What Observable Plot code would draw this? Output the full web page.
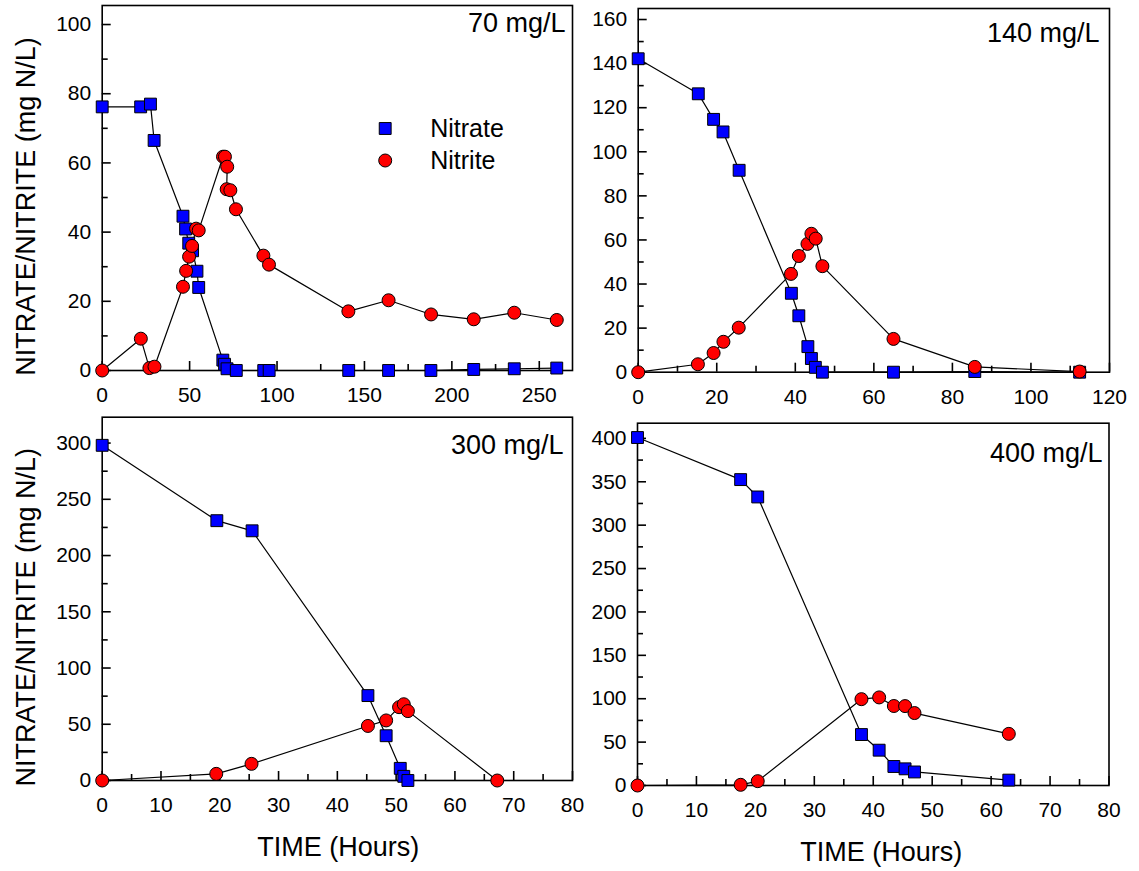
<!DOCTYPE html>
<html>
<head>
<meta charset="utf-8">
<script src="https://cdn.jsdelivr.net/npm/d3@7"></script>
<script src="https://cdn.jsdelivr.net/npm/@observablehq/plot@0.6"></script>
<style>
  html, body { margin: 0; padding: 0; background: #ffffff; }
  #chart { position: relative; width: 1139px; height: 871px; background: #ffffff; }
  #chart svg { position: absolute; overflow: visible; }
</style>
</head>
<body>
<div id="chart"></div>
<script>
// ---------- DATA: [time (hours), concentration (mg N/L)] ----------
const nitrate70 = [[0,76.2],[22,76.2],[27.6,77.0],[29.7,66.5],[46.2,44.6],[47.7,40.9],[49.5,36.8],[51.7,34.6],[54.2,28.7],[55.2,24.0],[69.0,3.0],[70.0,1.8],[71.4,0.5],[76.7,0],[92.4,0],[95.5,0],[141,0],[163.8,0],[188,0],[212.5,0.3],[235.7,0.5],[260,0.7]];
const nitrite70 = [[0,0],[22.1,9.2],[27.0,0.7],[29.9,1.1],[46.2,24.2],[48.0,28.8],[49.7,32.9],[51.4,36.0],[53.7,41.0],[55.2,40.5],[69.1,61.8],[70.2,61.8],[71.5,58.9],[71.2,52.4],[73.3,52.1],[76.5,46.6],[92.2,33.2],[95.4,30.6],[140.8,17.1],[163.8,20.3],[188.1,16.2],[212.5,14.8],[235.7,16.7],[260,14.6]];

const nitrate140 = [[0,142.2],[15.3,126.3],[19.2,114.7],[21.6,109.0],[25.7,91.6],[39.0,35.8],[40.9,25.6],[43.2,11.6],[44.1,6.2],[45.1,2.2],[46.9,0],[65.0,0],[85.7,0.3],[112.4,0]];
const nitrite140 = [[0,0],[15.2,3.6],[19.2,8.7],[21.7,13.8],[25.6,20.2],[38.9,44.6],[40.9,52.7],[43.1,58.2],[44.1,62.8],[45.2,60.6],[46.9,48.1],[65.0,15.1],[85.7,2.4],[112.4,0.3]];

const nitrate300 = [[0,298],[19.5,231],[25.5,222],[45.2,75.5],[48.3,39.8],[50.7,10.8],[51.3,3.7],[52.0,0]];
const nitrite300 = [[0,0],[19.4,5.9],[25.4,14.8],[45.2,48.5],[48.3,53.4],[50.5,65.2],[51.3,67.8],[52.0,61.7],[67.2,0]];

const nitrate400 = [[0,401],[17.5,352.5],[20.4,332.5],[38.0,58.7],[41.0,40.7],[43.5,21.9],[45.4,19.2],[47.0,15.6],[63.0,6.2]];
const nitrite400 = [[0,0],[17.5,0.8],[20.4,5.0],[38.0,99.5],[41.0,101.5],[43.5,91.6],[45.4,91.5],[47.0,83.5],[63.0,59.5]];

// ---------- Tick values / labels ----------
const xTicks70 = [0,50,100,150,200,250];
const xMinor70 = [25,75,125,175,225];
const yTicks70 = [0,20,40,60,80,100];
const yMinor70 = [10,30,50,70,90];

const xTicks140 = [0,20,40,60,80,100,120];
const xMinor140 = [10,30,50,70,90,110];
const yTicks140 = [0,20,40,60,80,100,120,140,160];
const yMinor140 = [10,30,50,70,90,110,130,150];

const xTicks80 = [0,10,20,30,40,50,60,70,80];
const xMinor80 = [5,15,25,35,45,55,65,75];
const yTicks300 = [0,50,100,150,200,250,300];
const yMinor300 = [25,75,125,175,225,275];
const yTicks400 = [0,50,100,150,200,250,300,350,400];
const yMinor400 = [25,75,125,175,225,275,325,375];

const panelLabels = ["70 mg/L", "140 mg/L", "300 mg/L", "400 mg/L"];
const seriesNames = ["Nitrate", "Nitrite"];
const yTitle = "NITRATE/NITRITE (mg N/L)";
const xTitle = "TIME (Hours)";

// ---------- Styling ----------
const FONT = "'Liberation Sans', Arial, Helvetica, sans-serif";
const BLUE = "#0000ff", RED = "#ff0000";

const panels = [
  {box:[0,0,580,410], frame:[101.7,5,572,370], xDomain:[0,269], yDomain:[0,105.5],
   xT:xTicks70, xM:xMinor70, yT:yTicks70, yM:yMinor70, nitrate:nitrate70, nitrite:nitrite70,
   label:panelLabels[0], labelPos:[-7,18], legend:true, yTitle:true, xTitle:false},
  {box:[580,0,559,410], frame:[637.7,8,1109,371.7], xDomain:[0,120], yDomain:[0,165],
   xT:xTicks140, xM:xMinor140, yT:yTicks140, yM:yMinor140, nitrate:nitrate140, nitrite:nitrite140,
   label:panelLabels[1], labelPos:[-10,25], legend:false, yTitle:false, xTitle:false},
  {box:[0,410,580,461], frame:[101.7,416.7,572,780], xDomain:[0,80], yDomain:[0,323],
   xT:xTicks80, xM:xMinor80, yT:yTicks300, yM:yMinor300, nitrate:nitrate300, nitrite:nitrite300,
   label:panelLabels[2], labelPos:[-9,28.3], legend:false, yTitle:true, xTitle:true, xTitleDx:0.8},
  {box:[580,410,559,461], frame:[637,422.7,1108.5,785], xDomain:[0,80], yDomain:[0,417.5],
   xT:xTicks80, xM:xMinor80, yT:yTicks400, yM:yMinor400, nitrate:nitrate400, nitrite:nitrite400,
   label:panelLabels[3], labelPos:[-6.5,30.3], legend:false, yTitle:false, xTitle:true, xTitleDx:8}
];

const container = document.getElementById("chart");

for (const p of panels) {
  const [bx, by, bw, bh] = p.box;
  const [fl, ft, fr, fb] = p.frame;
  const frameW = fr - fl, frameH = fb - ft;
  const MAJOR = 9, MINOR = 6;                 // tick lengths in pixels
  const xPerPx = (p.xDomain[1] - p.xDomain[0]) / frameW;
  const yPerPx = (p.yDomain[1] - p.yDomain[0]) / frameH;
  const x0 = p.xDomain[0], y0 = p.yDomain[0];
  const tx = d => d[0], ty = d => d[1];
  const tickStyle = {stroke: "black", strokeWidth: 1.6};

  const marks = [
    // inward tick marks: y ticks run right from the left edge, x ticks run up from the bottom edge
    Plot.ruleY(p.yT, {y: d => d, x1: x0, x2: x0 + MAJOR * xPerPx, ...tickStyle}),
    Plot.ruleY(p.yM, {y: d => d, x1: x0, x2: x0 + MINOR * xPerPx, ...tickStyle}),
    Plot.ruleX(p.xT, {x: d => d, y1: y0, y2: y0 + MAJOR * yPerPx, ...tickStyle}),
    Plot.ruleX(p.xM, {x: d => d, y1: y0, y2: y0 + MINOR * yPerPx, ...tickStyle}),
    Plot.axisY(p.yT, {anchor: "left", tickSize: 0, tickPadding: 11, fontSize: 21, label: null}),
    Plot.axisX(p.xT, {anchor: "bottom", tickSize: 0, tickPadding: 17, fontSize: 21, label: null}),
    Plot.frame({stroke: "black", strokeWidth: 1.6}),
    // series lines
    Plot.line(p.nitrate, {x: tx, y: ty, stroke: "black", strokeWidth: 1.2}),
    Plot.line(p.nitrite, {x: tx, y: ty, stroke: "black", strokeWidth: 1.2}),
    // markers
    Plot.dot(p.nitrate, {x: tx, y: ty, symbol: "square", r: 6.7, fill: BLUE, stroke: "black", strokeWidth: 1}),
    Plot.dot(p.nitrite, {x: tx, y: ty, symbol: "circle", r: 6.5, fill: RED, stroke: "black", strokeWidth: 1}),
    // panel label
    Plot.text([p.label], {frameAnchor: "top-right", text: d => d, textAnchor: "end", lineAnchor: "middle",
      dx: p.labelPos[0], dy: p.labelPos[1], fontSize: 27})
  ];

  if (p.legend) {
    marks.push(
      Plot.dot([seriesNames[0]], {frameAnchor: "top-left", dx: 283, dy: 123, symbol: "square", r: 6.7, fill: BLUE, stroke: "black", strokeWidth: 1}),
      Plot.dot([seriesNames[1]], {frameAnchor: "top-left", dx: 283, dy: 155, symbol: "circle", r: 6.5, fill: RED, stroke: "black", strokeWidth: 1}),
      Plot.text([seriesNames[0]], {frameAnchor: "top-left", text: d => d, textAnchor: "start", lineAnchor: "middle", dx: 328, dy: 123, fontSize: 25}),
      Plot.text([seriesNames[1]], {frameAnchor: "top-left", text: d => d, textAnchor: "start", lineAnchor: "middle", dx: 328, dy: 155, fontSize: 25})
    );
  }
  if (p.yTitle) {
    marks.push(Plot.text([yTitle], {frameAnchor: "left", text: d => d, rotate: -90,
      textAnchor: "middle", lineAnchor: "middle", dx: 26 - fl, dy: 18.5, fontSize: 27}));
  }
  if (p.xTitle) {
    marks.push(Plot.text([xTitle], {frameAnchor: "bottom", text: d => d,
      textAnchor: "middle", lineAnchor: "middle", dx: p.xTitleDx, dy: 66.7, fontSize: 27}));
  }

  const svg = Plot.plot({
    width: bw,
    height: bh,
    marginLeft: fl - bx,
    marginTop: ft - by,
    marginRight: bx + bw - fr,
    marginBottom: by + bh - fb,
    x: {domain: p.xDomain, axis: null},
    y: {domain: p.yDomain, axis: null},
    style: {fontFamily: FONT, fontSize: "21px", color: "black", background: "transparent", overflow: "visible"},
    marks
  });
  svg.style.left = bx + "px";
  svg.style.top = by + "px";
  container.appendChild(svg);
}
</script>
</body>
</html>
